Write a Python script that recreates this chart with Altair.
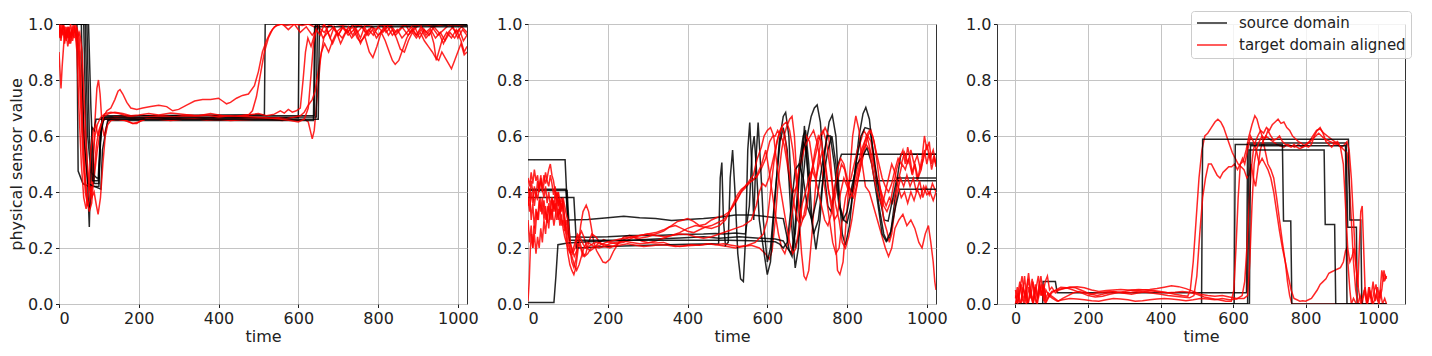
import altair as alt
import pandas as pd

SERIES = ["source domain", "target domain aligned"]
X_TICKS = [0, 200, 400, 600, 800, 1000]
Y_TICKS = [0.0, 0.2, 0.4, 0.6, 0.8, 1.0]

# ---------------- panel 1 ----------------
P1_SRC = [
    [(0,1.0),(45,1.0),(48,0.475),(60,0.43),(75,0.42),(100,0.42),(103,0.55),(108,0.65),(115,0.668),(200,0.672),(400,0.675),(515,0.676),(517,1.0),(1023,1.0)],
    [(0,1.0),(62,1.0),(68,0.6),(74,0.35),(76,0.275),(79,0.45),(83,0.63),(88,0.62),(93,0.66),(300,0.662),(500,0.665),(600,0.665),(602,1.0),(1023,0.995)],
    [(0,1.0),(66,1.0),(72,0.6),(80,0.47),(95,0.45),(100,0.45),(104,0.6),(112,0.672),(640,0.672),(643,1.0),(1023,1.0)],
    [(0,1.0),(56,1.0),(62,0.6),(72,0.43),(105,0.41),(109,0.55),(122,0.655),(638,0.655),(641,0.99),(1023,0.99)],
    [(0,1.0),(70,1.0),(76,0.6),(84,0.44),(98,0.44),(102,0.55),(108,0.665),(645,0.668),(648,1.0),(1023,0.997)],
    [(0,1.0),(74,1.0),(80,0.7),(88,0.43),(100,0.43),(104,0.6),(112,0.66),(650,0.66),(653,1.0),(1023,1.0)],
]
P1_TGT = [
    [(0,0.9),(3,0.82),(5,0.77),(8,0.85),(12,0.93),(16,0.97),(20,0.95),(25,0.99),(30,0.96),(36,1.0),(42,0.97),(48,0.93),(54,0.8),(60,0.6),(66,0.45),(72,0.36),(78,0.34),(84,0.45),(90,0.65),(95,0.77),(99,0.8),(103,0.75),(108,0.64),(113,0.6),(118,0.63),(125,0.66),(140,0.67),(170,0.665),(200,0.66),(240,0.665),(280,0.66),(320,0.662),(360,0.66),(400,0.658),(440,0.662),(480,0.665),(520,0.66),(560,0.655),(580,0.66),(600,0.655),(615,0.66),(625,0.65),(630,0.62),(635,0.59),(640,0.62),(648,0.75),(656,0.88),(664,0.95),(672,0.98),(680,0.95),(690,0.99),(700,0.96),(712,0.99),(724,0.97),(736,1.0),(748,0.97),(760,0.99),(772,0.96),(784,0.99),(796,0.98),(808,1.0),(820,0.97),(832,0.99),(844,0.96),(856,0.98),(868,1.0),(880,0.97),(892,0.99),(904,0.95),(916,0.98),(928,0.96),(940,0.99),(952,0.97),(964,0.93),(976,0.97),(988,0.99),(1000,0.95),(1012,0.98),(1023,0.96)],
    [(0,0.98),(5,0.94),(10,1.0),(15,0.95),(20,0.99),(26,0.93),(32,0.98),(38,0.95),(44,0.99),(50,0.96),(56,0.85),(62,0.65),(68,0.5),(74,0.42),(80,0.4),(88,0.45),(96,0.55),(104,0.62),(112,0.67),(120,0.69),(130,0.7),(140,0.73),(148,0.76),(153,0.766),(160,0.75),(170,0.72),(180,0.7),(195,0.695),(210,0.7),(230,0.705),(250,0.71),(270,0.705),(285,0.69),(300,0.695),(320,0.71),(340,0.725),(360,0.73),(380,0.73),(400,0.735),(410,0.725),(420,0.715),(430,0.72),(445,0.735),(460,0.745),(475,0.75),(490,0.78),(500,0.83),(510,0.9),(520,0.94),(530,0.97),(540,0.99),(555,1.0),(570,0.995),(590,1.0),(610,0.995),(625,1.0),(640,0.99),(655,1.0),(670,0.99),(690,1.0),(710,0.995),(730,1.0),(760,0.99),(790,1.0),(820,0.995),(850,1.0),(880,0.99),(910,1.0),(940,0.99),(970,1.0),(1000,0.995),(1023,1.0)],
    [(0,1.0),(6,0.97),(12,0.99),(18,0.94),(24,0.98),(30,0.95),(36,0.99),(42,0.96),(48,0.9),(54,0.72),(60,0.52),(66,0.4),(72,0.35),(78,0.38),(84,0.5),(90,0.6),(96,0.64),(104,0.665),(115,0.68),(130,0.685),(150,0.68),(175,0.67),(200,0.665),(230,0.67),(260,0.672),(290,0.668),(320,0.675),(350,0.672),(380,0.68),(410,0.672),(440,0.668),(460,0.672),(475,0.675),(485,0.69),(495,0.74),(505,0.82),(515,0.9),(525,0.95),(535,0.98),(545,0.995),(560,1.0),(575,0.98),(590,1.0),(605,0.97),(620,0.99),(635,0.96),(650,0.99),(665,0.97),(680,1.0),(695,0.97),(710,0.99),(725,0.96),(740,0.98),(755,1.0),(770,0.97),(785,0.99),(800,0.96),(815,0.98),(830,1.0),(845,0.97),(860,0.99),(875,0.96),(890,0.98),(905,1.0),(920,0.97),(935,0.99),(950,0.96),(965,0.98),(980,1.0),(995,0.97),(1010,0.99),(1023,0.97)],
    [(0,0.99),(5,0.95),(11,1.0),(17,0.96),(23,0.99),(29,0.93),(35,0.97),(41,1.0),(47,0.97),(52,0.88),(58,0.66),(64,0.47),(70,0.37),(76,0.33),(82,0.36),(88,0.47),(94,0.57),(100,0.62),(106,0.645),(115,0.66),(130,0.665),(150,0.66),(170,0.655),(185,0.645),(195,0.645),(205,0.655),(230,0.665),(260,0.668),(290,0.665),(320,0.67),(350,0.668),(380,0.665),(410,0.672),(440,0.67),(470,0.675),(500,0.68),(520,0.672),(540,0.678),(555,0.69),(565,0.682),(575,0.695),(585,0.685),(595,0.69),(605,0.7),(612,0.8),(618,0.9),(624,0.95),(632,0.92),(640,0.96),(650,0.99),(662,0.95),(674,0.97),(686,0.93),(698,0.97),(710,0.95),(722,0.98),(734,0.95),(746,0.97),(756,0.93),(766,0.96),(778,0.9),(787,0.88),(797,0.92),(808,0.97),(818,0.94),(828,0.9),(836,0.87),(843,0.856),(852,0.87),(862,0.91),(872,0.95),(884,0.98),(896,0.96),(908,0.99),(920,0.96),(932,0.98),(944,0.95),(956,0.97),(968,0.94),(980,0.97),(992,0.95),(1004,0.98),(1014,0.94),(1023,0.96)],
    [(0,0.95),(5,1.0),(10,0.96),(16,0.99),(22,0.92),(28,0.97),(34,0.94),(40,0.99),(46,0.95),(52,0.97),(58,0.9),(64,0.7),(70,0.52),(76,0.42),(82,0.38),(88,0.4),(94,0.35),(98,0.32),(104,0.38),(110,0.5),(116,0.6),(122,0.64),(130,0.655),(145,0.66),(165,0.655),(185,0.645),(200,0.65),(220,0.662),(250,0.66),(280,0.655),(310,0.66),(340,0.662),(370,0.657),(400,0.66),(430,0.655),(460,0.658),(490,0.66),(520,0.662),(550,0.665),(570,0.662),(590,0.668),(605,0.672),(615,0.685),(625,0.71),(635,0.73),(642,0.76),(650,0.83),(658,0.9),(666,0.93),(676,0.9),(686,0.94),(696,0.97),(706,0.93),(716,0.96),(726,0.99),(736,0.96),(746,0.98),(756,0.95),(766,0.99),(776,0.96),(786,0.98),(796,0.95),(806,0.97),(816,0.99),(826,0.96),(836,0.98),(846,0.95),(856,0.91),(866,0.9),(876,0.94),(886,0.97),(896,0.95),(906,0.97),(916,0.94),(926,0.92),(936,0.9),(944,0.88),(952,0.87),(960,0.9),(968,0.88),(976,0.86),(984,0.84),(992,0.87),(1000,0.9),(1008,0.93),(1016,0.89),(1023,0.9)],
    [(0,1.0),(4,0.97),(9,0.99),(14,0.93),(19,0.98),(24,0.95),(29,1.0),(34,0.96),(40,0.98),(45,0.9),(50,0.7),(56,0.5),(62,0.38),(68,0.34),(74,0.4),(80,0.55),(86,0.62),(92,0.64),(98,0.6),(104,0.63),(112,0.67),(125,0.68),(140,0.685),(160,0.68),(180,0.672),(200,0.675),(225,0.68),(250,0.675),(280,0.682),(310,0.678),(340,0.672),(370,0.675),(400,0.668),(430,0.672),(460,0.67),(490,0.668),(520,0.665),(550,0.662),(580,0.655),(600,0.65),(615,0.66),(625,0.7),(632,0.82),(638,0.93),(645,0.98),(655,0.96),(665,1.0),(675,0.97),(688,0.99),(700,0.96),(712,0.99),(724,0.97),(736,0.99),(748,0.95),(755,0.937),(764,0.95),(776,0.98),(788,0.96),(800,0.99),(812,0.97),(824,0.99),(836,0.96),(848,0.98),(860,0.95),(872,0.97),(884,0.99),(896,0.96),(908,0.98),(920,0.95),(932,0.97),(940,0.93),(946,0.87),(952,0.9),(960,0.94),(972,0.97),(984,0.95),(996,0.98),(1008,0.94),(1016,0.9),(1023,0.92)],
]

# ---------------- panel 2 ----------------
P2_SRC = [
    [(0,0.515),(93,0.515),(100,0.3),(150,0.302),(200,0.308),(240,0.313),(280,0.308),(320,0.305),(360,0.298),(400,0.302),(440,0.305),(480,0.31),(520,0.318),(560,0.318),(600,0.312),(640,0.305),(648,0.25),(655,0.19),(662,0.17),(670,0.28),(680,0.5),(690,0.6),(696,0.62),(704,0.5),(712,0.3),(722,0.195),(732,0.3),(745,0.55),(755,0.65),(763,0.675),(772,0.6),(780,0.4),(788,0.25),(796,0.21),(806,0.28),(818,0.45),(830,0.6),(840,0.68),(847,0.702),(856,0.66),(868,0.5),(880,0.35),(892,0.25),(900,0.225),(908,0.24),(918,0.35),(928,0.47),(935,0.535),(1023,0.535)],
    [(0,0.41),(95,0.41),(102,0.24),(150,0.238),(200,0.24),(260,0.245),(320,0.245),(380,0.248),(440,0.25),(470,0.252),(490,0.25),(520,0.254),(545,0.25),(555,0.35),(562,0.55),(567,0.6),(572,0.5),(580,0.3),(590,0.2),(600,0.105),(608,0.15),(618,0.35),(630,0.58),(640,0.67),(646,0.684),(654,0.6),(662,0.35),(670,0.2),(680,0.25),(690,0.45),(700,0.6),(710,0.67),(718,0.7),(725,0.711),(733,0.65),(742,0.48),(752,0.35),(760,0.33),(768,0.4),(778,0.5),(786,0.535),(1023,0.535)],
    [(0,0.38),(115,0.38),(122,0.2),(200,0.205),(300,0.21),(400,0.213),(478,0.215),(482,0.45),(486,0.505),(490,0.3),(495,0.21),(502,0.22),(507,0.45),(513,0.55),(519,0.4),(526,0.18),(533,0.09),(540,0.08),(546,0.25),(551,0.55),(556,0.648),(561,0.5),(566,0.3),(571,0.5),(577,0.648),(583,0.5),(590,0.3),(600,0.15),(608,0.2),(620,0.4),(632,0.58),(640,0.63),(650,0.55),(660,0.3),(670,0.129),(678,0.2),(686,0.45),(693,0.636),(700,0.5),(705,0.44),(1023,0.44)],
    [(0,0.005),(65,0.005),(70,0.1),(75,0.212),(100,0.218),(150,0.222),(200,0.225),(260,0.228),(320,0.232),(380,0.236),(440,0.24),(480,0.235),(530,0.24),(580,0.235),(620,0.232),(640,0.225),(650,0.2),(660,0.183),(670,0.25),(680,0.45),(690,0.58),(698,0.55),(706,0.35),(716,0.25),(728,0.3),(740,0.45),(752,0.55),(762,0.6),(772,0.5),(782,0.35),(792,0.3),(800,0.29),(810,0.35),(822,0.5),(835,0.6),(845,0.63),(858,0.624),(870,0.5),(882,0.38),(893,0.3),(903,0.296),(915,0.38),(925,0.45),(1023,0.45)],
    [(0,0.405),(98,0.405),(105,0.228),(200,0.228),(300,0.228),(400,0.228),(500,0.228),(560,0.226),(620,0.222),(630,0.215),(640,0.2),(650,0.22),(660,0.35),(670,0.48),(680,0.5),(690,0.45),(700,0.35),(712,0.3),(725,0.38),(738,0.5),(750,0.6),(758,0.6),(768,0.5),(780,0.35),(790,0.3),(800,0.33),(812,0.42),(825,0.5),(840,0.53),(850,0.558),(862,0.5),(875,0.38),(888,0.25),(898,0.224),(910,0.26),(922,0.35),(932,0.41),(1023,0.41)],
]
P2_TGT = [
    [(0,0.01),(3,0.08),(6,0.2),(9,0.25),(12,0.2),(15,0.28),(18,0.25),(22,0.33),(26,0.3),(30,0.38),(35,0.32),(40,0.37),(45,0.3),(50,0.35),(55,0.3),(60,0.34),(65,0.28),(70,0.33),(75,0.38),(80,0.32),(85,0.36),(90,0.3),(95,0.25),(100,0.18),(105,0.14),(110,0.12),(115,0.105),(120,0.13),(126,0.2),(132,0.28),(138,0.33),(146,0.353),(152,0.33),(158,0.28),(165,0.22),(172,0.19),(180,0.17),(188,0.15),(195,0.147),(205,0.16),(215,0.19),(228,0.22),(240,0.24),(255,0.245),(270,0.235),(285,0.225),(300,0.22),(320,0.218),(340,0.22),(360,0.21),(380,0.205),(400,0.208),(420,0.21),(440,0.212),(460,0.215),(480,0.21),(500,0.205),(520,0.2),(540,0.205),(560,0.21),(580,0.2),(595,0.18),(605,0.16),(612,0.19),(620,0.3),(628,0.45),(636,0.55),(642,0.6),(648,0.63),(656,0.66),(662,0.67),(668,0.6),(674,0.45),(680,0.3),(686,0.18),(692,0.1),(697,0.087),(704,0.12),(712,0.25),(720,0.4),(728,0.52),(736,0.6),(745,0.63),(754,0.6),(762,0.45),(770,0.25),(776,0.12),(782,0.105),(790,0.15),(798,0.3),(806,0.45),(814,0.6),(822,0.672),(830,0.62),(838,0.5),(846,0.42),(856,0.4),(866,0.35),(876,0.3),(886,0.25),(896,0.2),(904,0.17),(912,0.2),(920,0.27),(930,0.3),(940,0.32),(950,0.28),(960,0.3),(970,0.27),(980,0.22),(988,0.2),(996,0.25),(1004,0.28),(1010,0.22),(1016,0.15),(1020,0.08),(1023,0.05)],
    [(0,0.45),(4,0.42),(8,0.47),(12,0.43),(16,0.48),(20,0.44),(24,0.46),(28,0.4),(32,0.44),(36,0.42),(40,0.46),(44,0.43),(48,0.45),(52,0.48),(56,0.5),(60,0.46),(64,0.44),(68,0.4),(72,0.38),(76,0.4),(80,0.35),(85,0.38),(90,0.33),(95,0.28),(100,0.25),(105,0.22),(110,0.2),(116,0.17),(122,0.19),(128,0.24),(134,0.26),(140,0.24),(148,0.2),(156,0.19),(166,0.2),(178,0.22),(190,0.23),(205,0.22),(220,0.215),(240,0.22),(260,0.235),(280,0.245),(300,0.25),(320,0.255),(340,0.265),(360,0.28),(375,0.295),(390,0.3),(400,0.305),(415,0.295),(430,0.28),(445,0.285),(460,0.3),(475,0.31),(490,0.315),(505,0.33),(520,0.36),(535,0.4),(548,0.42),(560,0.44),(572,0.45),(584,0.48),(596,0.52),(606,0.58),(614,0.6),(620,0.6),(626,0.62),(634,0.6),(642,0.57),(650,0.5),(658,0.42),(666,0.4),(674,0.42),(682,0.5),(690,0.55),(698,0.6),(706,0.58),(714,0.5),(722,0.45),(730,0.5),(738,0.55),(746,0.5),(754,0.4),(762,0.36),(770,0.38),(778,0.45),(786,0.5),(794,0.48),(802,0.42),(810,0.45),(818,0.5),(826,0.55),(834,0.58),(842,0.62),(850,0.6),(858,0.55),(866,0.5),(874,0.45),(882,0.42),(890,0.38),(898,0.35),(906,0.38),(914,0.36),(922,0.4),(930,0.45),(938,0.5),(946,0.48),(954,0.52),(962,0.47),(970,0.5),(978,0.45),(986,0.48),(994,0.55),(1000,0.5),(1006,0.54),(1012,0.48),(1018,0.52),(1023,0.5)],
    [(0,0.35),(4,0.4),(8,0.3),(12,0.36),(16,0.27),(20,0.34),(24,0.3),(28,0.37),(32,0.33),(36,0.38),(40,0.3),(44,0.35),(48,0.29),(52,0.36),(56,0.32),(60,0.38),(64,0.34),(68,0.4),(72,0.36),(76,0.3),(80,0.35),(84,0.28),(88,0.3),(92,0.26),(96,0.3),(100,0.27),(105,0.2),(110,0.15),(115,0.13),(120,0.16),(126,0.22),(132,0.2),(138,0.17),(145,0.18),(152,0.22),(160,0.25),(170,0.24),(180,0.22),(192,0.205),(205,0.2),(220,0.21),(240,0.23),(260,0.24),(280,0.235),(300,0.24),(320,0.25),(340,0.26),(355,0.275),(370,0.28),(385,0.27),(400,0.26),(415,0.255),(430,0.265),(445,0.275),(460,0.28),(475,0.29),(490,0.3),(502,0.32),(514,0.35),(526,0.38),(538,0.41),(550,0.43),(562,0.44),(574,0.46),(586,0.5),(596,0.55),(604,0.48),(612,0.4),(620,0.32),(628,0.25),(636,0.2),(644,0.18),(652,0.22),(660,0.3),(668,0.38),(676,0.45),(684,0.5),(692,0.55),(700,0.58),(708,0.6),(716,0.62),(724,0.58),(732,0.52),(740,0.45),(748,0.38),(756,0.3),(764,0.22),(772,0.18),(780,0.2),(788,0.3),(796,0.38),(804,0.42),(812,0.4),(820,0.45),(828,0.5),(836,0.55),(844,0.58),(852,0.6),(860,0.58),(868,0.5),(876,0.44),(884,0.4),(892,0.35),(900,0.33),(908,0.36),(916,0.42),(924,0.48),(932,0.52),(940,0.55),(946,0.5),(952,0.56),(958,0.52),(964,0.46),(970,0.5),(976,0.44),(982,0.48),(988,0.52),(994,0.6),(1000,0.55),(1006,0.58),(1012,0.5),(1018,0.53),(1023,0.49)],
    [(0,0.3),(4,0.22),(8,0.28),(12,0.2),(16,0.25),(20,0.18),(24,0.24),(28,0.2),(32,0.27),(36,0.22),(40,0.3),(44,0.25),(48,0.32),(52,0.27),(56,0.35),(60,0.3),(64,0.37),(68,0.33),(72,0.4),(76,0.35),(80,0.38),(84,0.33),(88,0.37),(92,0.3),(96,0.26),(100,0.22),(105,0.19),(110,0.17),(116,0.14),(122,0.12),(128,0.14),(134,0.17),(140,0.2),(148,0.22),(156,0.215),(166,0.205),(178,0.2),(190,0.205),(205,0.215),(220,0.22),(240,0.225),(260,0.22),(280,0.215),(300,0.218),(320,0.225),(340,0.235),(360,0.245),(380,0.25),(400,0.248),(420,0.24),(440,0.235),(460,0.24),(480,0.25),(500,0.26),(520,0.27),(540,0.28),(560,0.3),(572,0.35),(580,0.4),(588,0.43),(596,0.42),(604,0.45),(612,0.5),(620,0.55),(628,0.6),(636,0.63),(644,0.6),(652,0.5),(660,0.42),(668,0.35),(676,0.3),(684,0.28),(692,0.32),(700,0.38),(708,0.44),(716,0.5),(724,0.55),(732,0.6),(740,0.62),(748,0.58),(756,0.5),(764,0.42),(772,0.35),(780,0.3),(788,0.22),(796,0.2),(804,0.24),(812,0.3),(820,0.38),(828,0.45),(836,0.5),(844,0.55),(852,0.6),(860,0.62),(868,0.58),(876,0.5),(884,0.4),(892,0.3),(900,0.26),(906,0.22),(912,0.25),(918,0.32),(926,0.4),(934,0.45),(942,0.42),(950,0.46),(958,0.42),(966,0.45),(974,0.4),(982,0.44),(990,0.38),(998,0.42),(1006,0.39),(1014,0.43),(1023,0.4)],
    [(0,0.38),(4,0.33),(8,0.4),(12,0.36),(16,0.42),(20,0.38),(24,0.44),(28,0.4),(32,0.46),(36,0.41),(40,0.38),(44,0.42),(48,0.36),(52,0.4),(56,0.35),(60,0.38),(64,0.33),(68,0.36),(72,0.3),(76,0.34),(80,0.28),(84,0.32),(88,0.27),(92,0.24),(96,0.22),(100,0.2),(106,0.18),(112,0.19),(118,0.22),(124,0.25),(130,0.24),(136,0.22),(144,0.2),(152,0.205),(162,0.215),(172,0.22),(185,0.215),(200,0.21),(215,0.205),(230,0.21),(250,0.215),(270,0.21),(290,0.205),(310,0.208),(330,0.212),(350,0.21),(370,0.205),(390,0.208),(410,0.212),(430,0.21),(450,0.215),(470,0.212),(490,0.215),(510,0.21),(530,0.205),(550,0.21),(570,0.22),(590,0.25),(600,0.3),(608,0.4),(616,0.5),(624,0.58),(632,0.62),(640,0.64),(648,0.65),(656,0.62),(664,0.55),(672,0.45),(680,0.35),(688,0.3),(696,0.32),(704,0.4),(712,0.48),(720,0.55),(728,0.6),(736,0.58),(744,0.5),(752,0.42),(760,0.35),(768,0.3),(776,0.32),(784,0.4),(792,0.45),(800,0.42),(808,0.38),(816,0.4),(824,0.45),(832,0.5),(840,0.55),(848,0.57),(856,0.55),(864,0.48),(872,0.42),(880,0.38),(888,0.35),(896,0.4),(904,0.45),(912,0.5),(920,0.47),(928,0.42),(936,0.38),(944,0.4),(952,0.36),(960,0.4),(968,0.37),(976,0.41),(984,0.38),(992,0.42),(1000,0.39),(1008,0.4),(1016,0.37),(1023,0.4)],
    [(0,0.42),(4,0.38),(8,0.44),(12,0.4),(16,0.35),(20,0.4),(24,0.37),(28,0.42),(32,0.45),(36,0.4),(40,0.43),(44,0.47),(48,0.44),(52,0.42),(56,0.46),(60,0.43),(64,0.39),(68,0.42),(72,0.37),(76,0.4),(80,0.36),(84,0.34),(88,0.38),(92,0.35),(96,0.32),(100,0.3),(104,0.25),(108,0.2),(112,0.18),(118,0.2),(124,0.24),(130,0.22),(136,0.19),(142,0.17),(150,0.18),(158,0.2),(168,0.205),(180,0.21),(195,0.22),(210,0.225),(225,0.23),(240,0.235),(260,0.24),(280,0.245),(300,0.25),(320,0.245),(340,0.24),(360,0.245),(380,0.255),(400,0.27),(420,0.28),(440,0.275),(460,0.27),(480,0.28),(495,0.3),(505,0.33),(515,0.36),(525,0.39),(535,0.41),(545,0.42),(555,0.44),(565,0.46),(575,0.52),(585,0.56),(592,0.6),(600,0.62),(608,0.63),(616,0.6),(624,0.5),(632,0.42),(640,0.35),(648,0.28),(656,0.22),(664,0.18),(672,0.2),(680,0.28),(688,0.36),(696,0.4),(704,0.45),(712,0.48),(720,0.45),(728,0.4),(736,0.35),(744,0.3),(752,0.28),(760,0.32),(768,0.4),(776,0.48),(784,0.52),(792,0.5),(800,0.45),(808,0.4),(816,0.38),(824,0.42),(832,0.48),(840,0.55),(848,0.6),(856,0.62),(864,0.6),(872,0.55),(880,0.5),(888,0.45),(896,0.42),(904,0.4),(912,0.43),(920,0.48),(928,0.52),(936,0.5),(944,0.54),(952,0.5),(960,0.55),(968,0.5),(976,0.53),(984,0.48),(992,0.52),(1000,0.57),(1008,0.52),(1016,0.55),(1023,0.5)],
]

# ---------------- panel 3 ----------------
P3_SRC = [
    [(0,0.0),(75,0.0),(76,0.08),(110,0.08),(115,0.04),(637,0.04),(640,0.575),(912,0.575),(916,0.274),(940,0.274),(942,0.0),(1023,0.0)],
    [(0,0.0),(513,0.0),(516,0.588),(918,0.588),(922,0.3),(952,0.3),(955,0.0),(1023,0.0)],
    [(0,0.0),(603,0.0),(606,0.57),(736,0.57),(739,0.296),(759,0.296),(762,0.0),(1023,0.0)],
    [(0,0.0),(640,0.0),(644,0.55),(851,0.55),(854,0.284),(880,0.284),(883,0.0),(1023,0.0)],
    [(0,0.0),(645,0.0),(648,0.565),(910,0.565),(914,0.0),(1023,0.0)],
]
P3_TGT = [
    [(0,0.02),(5,0.06),(10,0.01),(15,0.0),(20,0.04),(25,0.1),(30,0.03),(35,0.0),(42,0.05),(48,0.01),(55,0.07),(62,0.02),(68,0.06),(75,0.03),(82,0.08),(88,0.1),(94,0.05),(100,0.06),(110,0.04),(120,0.05),(135,0.055),(150,0.06),(165,0.058),(180,0.05),(195,0.042),(210,0.035),(225,0.03),(240,0.035),(255,0.04),(270,0.045),(285,0.042),(300,0.038),(320,0.035),(340,0.04),(360,0.045),(380,0.048),(400,0.045),(420,0.04),(440,0.035),(460,0.03),(475,0.028),(482,0.05),(490,0.15),(498,0.3),(506,0.45),(514,0.55),(522,0.6),(530,0.61),(540,0.63),(550,0.65),(558,0.66),(566,0.65),(574,0.63),(582,0.6),(590,0.57),(598,0.54),(606,0.52),(614,0.5),(622,0.49),(630,0.48),(638,0.45),(644,0.46),(650,0.5),(656,0.45),(662,0.42),(668,0.48),(675,0.55),(682,0.58),(690,0.6),(700,0.59),(710,0.58),(720,0.57),(730,0.565),(740,0.56),(750,0.57),(760,0.565),(770,0.56),(780,0.57),(790,0.56),(800,0.57),(810,0.58),(820,0.6),(830,0.62),(840,0.625),(850,0.61),(860,0.6),(870,0.59),(880,0.58),(890,0.57),(898,0.56),(906,0.55),(914,0.54),(920,0.45),(926,0.3),(932,0.15),(938,0.05),(944,0.0),(950,0.03),(956,0.0),(962,0.05),(968,0.0),(974,0.06),(980,0.02),(986,0.08),(992,0.01),(998,0.06),(1004,0.02),(1010,0.12),(1016,0.08),(1020,0.1),(1023,0.09)],
    [(0,0.0),(6,0.03),(12,0.08),(18,0.02),(24,0.0),(30,0.05),(36,0.11),(42,0.04),(48,0.0),(54,0.06),(60,0.02),(66,0.08),(72,0.03),(78,0.07),(84,0.02),(90,0.04),(98,0.03),(108,0.02),(118,0.01),(130,0.02),(145,0.03),(160,0.04),(175,0.045),(190,0.04),(205,0.035),(220,0.038),(240,0.042),(260,0.045),(280,0.042),(300,0.04),(320,0.042),(340,0.045),(360,0.042),(380,0.038),(400,0.035),(420,0.03),(440,0.028),(460,0.025),(480,0.022),(492,0.03),(500,0.1),(508,0.25),(516,0.38),(524,0.45),(532,0.5),(540,0.5),(548,0.48),(556,0.46),(564,0.45),(572,0.47),(580,0.48),(588,0.49),(596,0.49),(604,0.5),(612,0.48),(620,0.5),(628,0.51),(636,0.55),(644,0.6),(652,0.64),(660,0.672),(666,0.66),(672,0.63),(680,0.6),(688,0.55),(696,0.5),(704,0.48),(712,0.45),(720,0.38),(728,0.3),(736,0.22),(744,0.15),(750,0.08),(756,0.03),(762,0.0),(1023,0.0)],
    [(0,0.05),(5,0.0),(10,0.03),(16,0.07),(22,0.01),(28,0.05),(34,0.0),(40,0.04),(46,0.09),(52,0.03),(58,0.0),(64,0.05),(70,0.1),(76,0.04),(82,0.0),(90,0.02),(100,0.04),(112,0.05),(125,0.06),(140,0.058),(155,0.052),(170,0.045),(185,0.038),(200,0.03),(220,0.025),(240,0.028),(260,0.035),(280,0.04),(300,0.045),(320,0.05),(340,0.052),(360,0.05),(380,0.046),(400,0.042),(420,0.04),(440,0.042),(460,0.045),(480,0.042),(500,0.035),(520,0.025),(540,0.02),(560,0.015),(580,0.01),(595,0.01),(602,0.05),(608,0.2),(614,0.38),(620,0.5),(626,0.52),(632,0.5),(640,0.55),(648,0.6),(656,0.58),(664,0.55),(672,0.5),(680,0.52),(688,0.5),(696,0.48),(704,0.45),(712,0.4),(720,0.33),(728,0.26),(736,0.2),(744,0.15),(752,0.1),(760,0.05),(768,0.02),(776,0.015),(784,0.01),(792,0.012),(800,0.01),(808,0.015),(816,0.02),(824,0.035),(832,0.05),(840,0.07),(848,0.08),(856,0.09),(864,0.11),(872,0.115),(880,0.12),(888,0.125),(896,0.13),(904,0.15),(910,0.19),(914,0.2),(918,0.12),(922,0.05),(926,0.0),(932,0.02),(940,0.0),(1023,0.0)],
    [(0,0.0),(7,0.04),(14,0.0),(21,0.06),(28,0.02),(35,0.09),(42,0.03),(49,0.0),(56,0.05),(63,0.1),(70,0.03),(77,0.06),(84,0.01),(92,0.03),(102,0.02),(115,0.01),(130,0.015),(150,0.02),(170,0.018),(190,0.015),(210,0.012),(230,0.01),(250,0.015),(270,0.02),(290,0.018),(310,0.015),(330,0.01),(350,0.012),(370,0.015),(390,0.018),(410,0.02),(430,0.018),(450,0.015),(470,0.012),(490,0.015),(510,0.02),(530,0.018),(550,0.015),(570,0.02),(590,0.015),(610,0.018),(625,0.03),(632,0.08),(638,0.2),(644,0.35),(650,0.48),(656,0.55),(662,0.58),(668,0.6),(676,0.62),(684,0.61),(692,0.63),(700,0.62),(708,0.64),(716,0.65),(724,0.66),(732,0.645),(740,0.65),(748,0.63),(756,0.62),(764,0.6),(772,0.59),(780,0.58),(788,0.575),(796,0.565),(804,0.57),(812,0.58),(820,0.59),(828,0.6),(836,0.61),(844,0.6),(852,0.59),(860,0.585),(868,0.58),(876,0.575),(884,0.57),(892,0.565),(900,0.56),(908,0.57),(914,0.58),(920,0.55),(926,0.45),(932,0.3),(938,0.15),(944,0.06),(948,0.2),(952,0.33),(956,0.35),(960,0.2),(964,0.05),(970,0.0),(976,0.06),(982,0.0),(988,0.04),(994,0.07),(1000,0.01),(1006,0.05),(1012,0.0),(1018,0.02),(1023,0.0)],
    [(0,0.03),(6,0.0),(12,0.05),(18,0.1),(24,0.04),(30,0.0),(36,0.06),(42,0.02),(48,0.08),(54,0.03),(60,0.0),(66,0.04),(72,0.07),(78,0.01),(84,0.05),(92,0.03),(100,0.045),(115,0.05),(130,0.055),(150,0.06),(170,0.062),(190,0.058),(210,0.05),(230,0.045),(250,0.048),(270,0.05),(290,0.052),(310,0.05),(330,0.048),(350,0.05),(370,0.052),(390,0.055),(410,0.06),(430,0.065),(450,0.062),(470,0.055),(490,0.045),(510,0.035),(530,0.03),(550,0.028),(570,0.03),(590,0.025),(610,0.02),(630,0.02),(640,0.03),(646,0.15),(652,0.35),(658,0.5),(664,0.55),(672,0.58),(680,0.6),(688,0.59),(696,0.62),(704,0.6),(712,0.585),(720,0.59),(728,0.6),(736,0.58),(744,0.57),(752,0.565),(760,0.56),(768,0.57),(776,0.56),(784,0.555),(792,0.56),(800,0.565),(808,0.56),(816,0.57),(824,0.6),(832,0.62),(840,0.63),(848,0.61),(856,0.58),(864,0.57),(872,0.56),(880,0.575),(888,0.58),(896,0.56),(904,0.5),(910,0.35),(916,0.2),(922,0.15),(928,0.17),(934,0.2),(940,0.12),(946,0.05),(952,0.0),(958,0.03),(964,0.06),(970,0.0),(978,0.04),(986,0.0),(994,0.03),(1002,0.0),(1010,0.05),(1016,0.12),(1020,0.09),(1023,0.1)],
]

FONT = "DejaVu Sans"
FS = 16
LEG_FS = 15


def to_frame(src, tgt):
    rows = []
    for i in range(max(len(src), len(tgt))):
        if i < len(src):
            for t, v in src[i]:
                rows.append({"t": t, "v": v, "line": f"{i:02d}a", "domain": SERIES[0]})
        if i < len(tgt):
            for t, v in tgt[i]:
                rows.append({"t": t, "v": v, "line": f"{i:02d}b", "domain": SERIES[1]})
    return pd.DataFrame(rows)


def panel(df, xdom, ytitle, legend):
    if ytitle is None:
        y_axis = alt.Axis(values=Y_TICKS, format=".1f", title=None)
    else:
        y_axis = alt.Axis(values=Y_TICKS, format=".1f", title=ytitle, titlePadding=3)
    return alt.Chart(df).mark_line(strokeWidth=1.5, opacity=0.85, clip=True).encode(
        x=alt.X("t:Q", scale=alt.Scale(domain=xdom, nice=False, zero=False),
                axis=alt.Axis(values=X_TICKS, format="d", title="time", titlePadding=2)),
        y=alt.Y("v:Q", scale=alt.Scale(domain=[0, 1], nice=False), axis=y_axis),
        color=alt.Color("domain:N", scale=alt.Scale(domain=SERIES, range=["#000000", "#ff0000"]),
                        legend=legend),
        detail="line:N",
        order=alt.Order("t:Q"),
    ).properties(width=408, height=280)


legend3 = alt.Legend(
    orient="none", legendX=194, legendY=-13, title=None,
    symbolType="stroke", symbolSize=900, symbolStrokeWidth=1.5, symbolOpacity=0.85,
    labelFontSize=LEG_FS, labelFont=FONT, labelColor="#222222", labelOffset=11, labelLimit=300,
    fillColor="rgba(255,255,255,0.8)", strokeColor="#cccccc", cornerRadius=3, padding=5,
    clipHeight=14, rowPadding=7,
)

c1 = panel(to_frame(P1_SRC, P1_TGT), [0, 1023], "physical sensor value", None)
c2 = panel(to_frame(P2_SRC, P2_TGT), [0, 1023], None, None)
c3 = panel(to_frame(P3_SRC, P3_TGT), [-51, 1074], None, legend3)

chart = alt.hconcat(c1, c2, c3, spacing=17).resolve_legend(color="independent").properties(
    padding={"left": 0, "top": 2, "right": 5, "bottom": 5}
).configure(font=FONT).configure_view(
    stroke="#333333", strokeWidth=1
).configure_axis(
    labelFont=FONT, titleFont=FONT,
    labelFontSize=FS, titleFontSize=FS, titleFontWeight="normal",
    labelColor="#222222", titleColor="#222222", tickColor="#222222", tickSize=3.5,
    labelPadding=2.5, domain=False, grid=True, gridColor="#c4c4c4", gridWidth=1,
)

chart.save("out.html", embed_options={"renderer": "svg", "actions": False})
